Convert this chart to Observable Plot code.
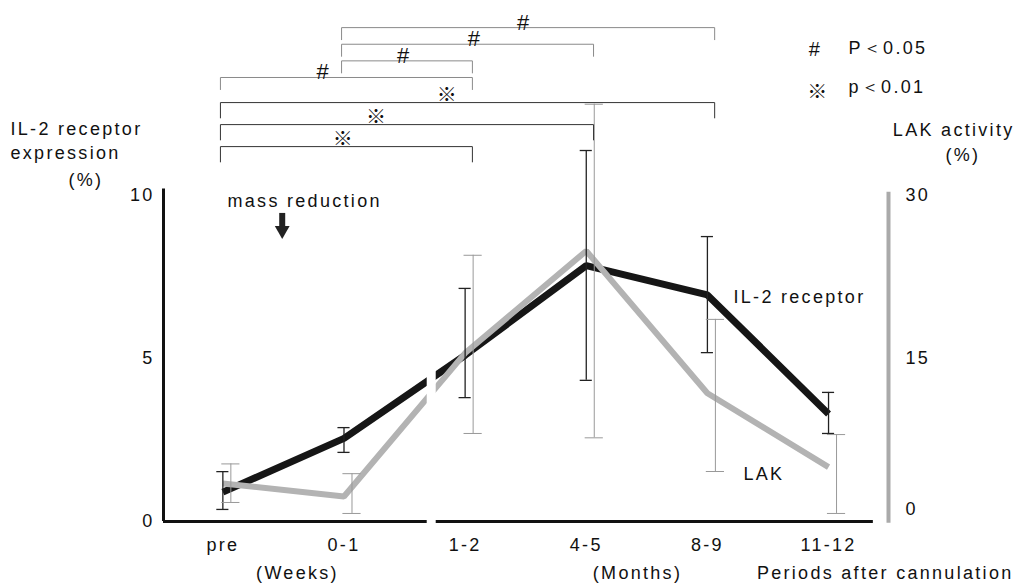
<!DOCTYPE html>
<html><head><meta charset="utf-8">
<script src="https://cdn.jsdelivr.net/npm/d3@7"></script>
<script src="https://cdn.jsdelivr.net/npm/@observablehq/plot@0.6"></script>
<style>
html,body{margin:0;padding:0;background:#fff}
</style>
</head><body><div id="chart"></div>
<script>
// ---- data ----
const periods = ["pre", "0-1", "1-2", "4-5", "8-9", "11-12"];
// IL-2 receptor expression (%), left axis
const il2Mean = [0.9, 2.55, 5.1, 7.85, 6.95, 3.3];
const il2Low  = [0.37, 2.12, 3.8, 4.33, 5.18, 2.7];
const il2High = [1.53, 2.88, 7.15, 11.38, 8.74, 3.96];
// LAK activity (%), right axis
const lakMean = [3.5, 2.3, 15.5, 24.9, 11.8, 5.0];
const lakLow  = [1.75, 0.74, 8.1, 7.7, 4.6, 0.74];
const lakHigh = [5.3, 4.4, 24.5, 38.4, 18.6, 8.0];
const leftTicks = [0, 5, 10];
const rightTicks = [0, 15, 30];
// significance brackets, bottom to top
const compFrom = ["pre", "pre", "pre", "pre", "0-1", "0-1", "0-1"];
const compTo   = ["1-2", "4-5", "8-9", "1-2", "1-2", "4-5", "8-9"];
const compMark = ["※", "※", "※", "#", "#", "#", "#"];
const compMarkAlong = [0.49, 0.42, 0.46, 0.41, 0.48, 0.53, 0.49];
const legendMarks = ["#", "※"];
const legendTexts = ["P＜0.05", "p＜0.01"];

// ---- layout helpers ----
const font = "'Liberation Sans', Arial, Helvetica, sans-serif";
const cjk = "'Noto Sans CJK JP', 'DejaVu Sans', sans-serif";
const xDom = [-0.49, 5.495];
const rightRatio = 3;          // 30 on right axis = 10 on left axis
const axisBreak = 1.72;        // broken x axis between weeks and months
const massReductionAt = 0.49;

const rows = periods.map((p, i) => ({
  p, i,
  il2: il2Mean[i], il2Lo: il2Low[i], il2Hi: il2High[i],
  lak: lakMean[i] / rightRatio, lakLo: lakLow[i] / rightRatio, lakHi: lakHigh[i] / rightRatio
}));

const levelY = k => k < 3 ? 11.5 + 0.675 * k : 13.62 + 0.51 * (k - 3);
const brackets = compFrom.map((f, k) => {
  const x1 = periods.indexOf(f) - 0.02, x2 = periods.indexOf(compTo[k]) + 0.06;
  return {k, x1, x2, xm: x1 + (x2 - x1) * compMarkAlong[k], y: levelY(k), mark: compMark[k],
          leg: compMark[k] === "※" ? 0.47 : 0.37};
});
const bracketPts = brackets.flatMap(b => [
  {k: b.k, mark: b.mark, x: b.x1, y: b.y - b.leg},
  {k: b.k, mark: b.mark, x: b.x1, y: b.y},
  {k: b.k, mark: b.mark, x: b.x2, y: b.y},
  {k: b.k, mark: b.mark, x: b.x2, y: b.y - b.leg}
]);

const capB = 0.05, capG = 0.075;

const chart = Plot.plot({
  width: 1020, height: 588,
  marginTop: 195, marginBottom: 67, marginLeft: 163, marginRight: 132,
  style: {fontFamily: font, fontSize: "18px", letterSpacing: "2.3px", background: "#fff", color: "#111"},
  x: {domain: xDom, axis: null},
  y: {domain: [0, 10], axis: null},
  marks: [
    // axis lines
    Plot.ruleX([xDom[0]], {y1: 0, y2: 10.2, stroke: "#111", strokeWidth: 3}),
    Plot.ruleX([xDom[1]], {y1: -0.05, y2: 10.1, stroke: "#aaa", strokeWidth: 4}),
    Plot.ruleY([0], {x1: xDom[0], x2: 5.37, stroke: "#111", strokeWidth: 3}),
    // tick labels
    Plot.axisY({ticks: leftTicks, tickSize: 0, tickPadding: 9, label: null, fontSize: 18}),
    Plot.axisY({anchor: "right", ticks: rightTicks.filter(d => d > 0).map(d => d / rightRatio),
      tickFormat: d => Math.round(d * rightRatio), tickSize: 0, tickPadding: 17, label: null, fontSize: 18}),
    Plot.axisY({anchor: "right", ticks: [0], tickFormat: () => "0", tickSize: 0, tickPadding: 17, dy: -12, label: null, fontSize: 18}),
    Plot.axisX({ticks: rows.map(d => d.i), tickFormat: i => periods[i], tickSize: 0, tickPadding: 17, label: null, fontSize: 18}),
    // series lines
    Plot.line(rows, {x: "i", y: "il2", stroke: "#161616", strokeWidth: 7, strokeLinejoin: "miter", strokeLinecap: "butt"}),
    Plot.line(rows, {x: "i", y: "lak", stroke: "#b3b3b3", strokeWidth: 6, strokeLinejoin: "miter", strokeLinecap: "butt"}),
    // axis break gap
    Plot.ruleX([axisBreak], {y1: -0.2, y2: 6, stroke: "#fff", strokeWidth: 9}),
    // error bars IL-2
    Plot.ruleX(rows, {x: "i", y1: "il2Lo", y2: "il2Hi", stroke: "#222", strokeWidth: 1.3}),
    Plot.ruleY(rows, {y: "il2Hi", x1: d => d.i - capB, x2: d => d.i + capB, stroke: "#222", strokeWidth: 1.3}),
    Plot.ruleY(rows, {y: "il2Lo", x1: d => d.i - capB, x2: d => d.i + capB, stroke: "#222", strokeWidth: 1.3}),
    // error bars LAK
    Plot.ruleX(rows, {x: "i", y1: "lakLo", y2: "lakHi", dx: 8, stroke: "#999", strokeWidth: 1}),
    Plot.ruleY(rows, {y: "lakHi", x1: d => d.i - capG, x2: d => d.i + capG, dx: 8, stroke: "#999", strokeWidth: 1}),
    Plot.ruleY(rows, {y: "lakLo", x1: d => d.i - capG, x2: d => d.i + capG, dx: 8, stroke: "#999", strokeWidth: 1}),
    // brackets
    Plot.line(bracketPts.filter(d => d.mark === "#"), {x: "x", y: "y", z: "k", stroke: "#8a8a8a", strokeWidth: 1}),
    Plot.line(bracketPts.filter(d => d.mark === "※"), {x: "x", y: "y", z: "k", stroke: "#333", strokeWidth: 1}),
    Plot.text(brackets.filter(d => d.mark === "#"), {x: "xm", y: "y", text: "mark",
      lineAnchor: "bottom", dy: 2, fontSize: 22, fill: "#111"}),
    Plot.text(brackets.filter(d => d.mark === "※"), {x: "xm", y: "y", text: "mark",
      lineAnchor: "bottom", dy: -1, fontSize: 20, fontFamily: cjk, fill: "#111"}),
    // mass reduction annotation
    Plot.text(["mass reduction"], {frameAnchor: "top-left", dx: 64, dy: -1, textAnchor: "start"}),
    Plot.ruleX([massReductionAt], {y1: 9.45, y2: 9.0, stroke: "#222", strokeWidth: 6}),
    Plot.dot([massReductionAt], {x: d => d, y: [8.93], symbol: "triangle", rotate: 180, r: 5.5, fill: "#222", stroke: "none"}),
    // series labels
    Plot.text(["IL-2 receptor"], {frameAnchor: "top-left", dx: 570, dy: 95, textAnchor: "start"}),
    Plot.text(["LAK"], {frameAnchor: "top-left", dx: 580, dy: 272, textAnchor: "start"}),
    // axis titles
    Plot.text(["IL-2 receptor"], {frameAnchor: "top-left", dx: -153, dy: -73, textAnchor: "start"}),
    Plot.text(["expression"], {frameAnchor: "top-left", dx: -153, dy: -49, textAnchor: "start"}),
    Plot.text(["(%)"], {frameAnchor: "top-left", dx: -95, dy: -22, textAnchor: "start"}),
    Plot.text(["LAK activity"], {frameAnchor: "top-right", dx: 126, dy: -72, textAnchor: "end"}),
    Plot.text(["(%)"], {frameAnchor: "top-right", dx: 57, dy: -47, textAnchor: "start"}),
    Plot.text(["(Weeks)"], {frameAnchor: "bottom-left", dx: 134, dy: 57, textAnchor: "middle"}),
    Plot.text(["(Months)"], {frameAnchor: "bottom-left", dx: 474, dy: 57, textAnchor: "middle"}),
    Plot.text(["Periods after cannulation"], {frameAnchor: "bottom-right", dx: 125, dy: 57, textAnchor: "end"}),
    // legend
    Plot.text([legendMarks[0]], {frameAnchor: "top-right", dx: -73, dy: -154, fontSize: 20, textAnchor: "middle"}),
    Plot.text([legendMarks[1]], {frameAnchor: "top-right", dx: -70, dy: -111, fontSize: 20, fontFamily: cjk, textAnchor: "middle"}),
    Plot.text([legendTexts[0]], {frameAnchor: "top-right", dx: -40, dy: -154, textAnchor: "start"}),
    Plot.text([legendTexts[1]], {frameAnchor: "top-right", dx: -40, dy: -115, textAnchor: "start"})
  ]
});
document.getElementById("chart").append(chart);
</script>
</body></html>
